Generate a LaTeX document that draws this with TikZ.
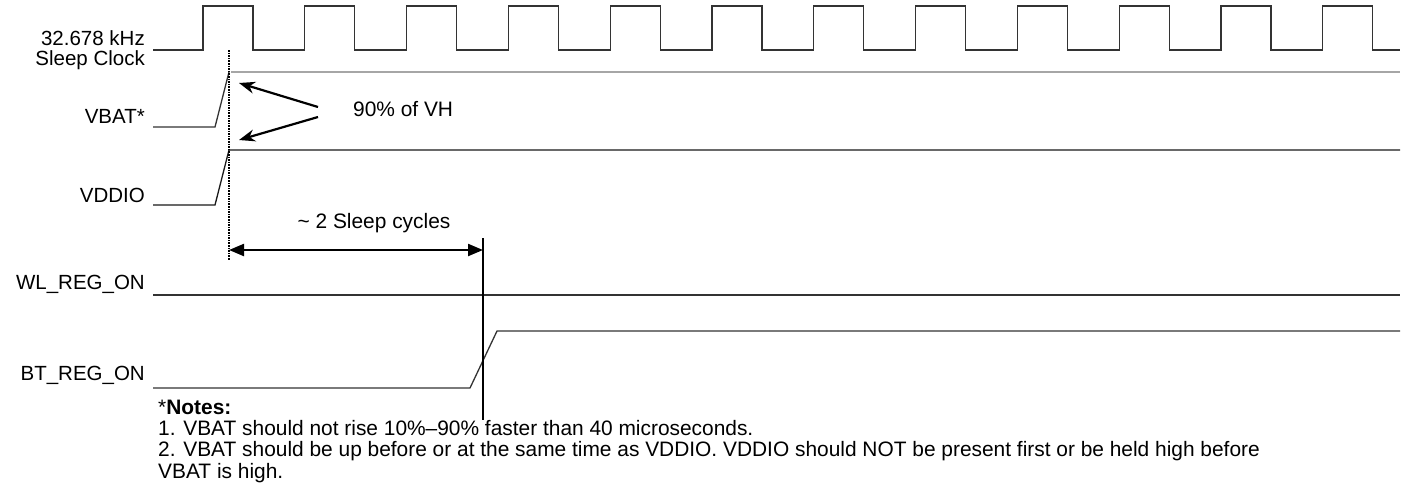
\documentclass[tikz,border=0pt]{standalone}
\usepackage{fontspec}
\setmainfont{Liberation Sans}
\usepackage{tikz}
\usetikzlibrary{positioning}
\usetikzlibrary{arrows.meta}
\tikzset{
  signal/.style= {
    color = black!80,
    line width = 1.3pt
  },
  siglabel/.style= {
    anchor = base east,
    inner sep = 0pt,
    font = \fontsize{20.5}{21}\selectfont
  },
  notetext/.style= {
    anchor = base west,
    align = left,
    inner sep = 0pt,
    font = \fontsize{20.9}{21.3}\selectfont
  },
  marker/.style= {
    densely dotted,
    line width = 1.6pt
  },
  pointer/.style= {
    -{Stealth[length=16pt,width=12pt]},
    line width = 2.2pt
  },
  span/.style= {
    {Triangle[length=15pt,width=12pt]}-{Triangle[length=15pt,width=12pt]},
    line width = 2.2pt
  }
}

\begin{document}
\begin{tikzpicture}[x=1pt,y=-1pt]
  \useasboundingbox (0,0) rectangle (1402,485);

  % signal names
  \node[siglabel] (clk) at (145,45) {32.678 kHz};
  \node[siglabel] (clk2) at (145,65) {Sleep Clock};
  \node[siglabel] (vbat) at (145,123) {VBAT*};
  \node[siglabel] (vddio) at (145,202) {VDDIO};
  \node[siglabel] (wl) at (145,289) {WL\_REG\_ON};
  \node[siglabel] (bt) at (145,380) {BT\_REG\_ON};

  % waveforms
  \draw[signal] (153,50)
    \foreach \i in {0,...,11} {
      -- ({203+101.8*\i},50) -- ({203+101.8*\i},6)
      -- ({253+101.8*\i},6) -- ({253+101.8*\i},50)
    } -- (1400,50);
  \draw[signal] (153,127) -- (215,127) -- (229,72);
  \draw[signal,color=black!35,line width=1.6pt] (231,72) -- (1400,72);
  \draw[signal,color=black!90] (153,205) -- (215,205) -- (229,150) -- (1400,150);
  \draw[signal] (153,295) -- (1400,295);
  \draw[signal] (153,388) -- (470,388) -- (497,331) -- (1400,331);

  % timing marks
  \coordinate (t0) at (229,50);
  \coordinate (t0end) at (229,260);
  \coordinate (t1) at (483,238);
  \coordinate (t1end) at (483,420);
  \draw[marker] (t0) -- (t0end);
  \draw[line width=1.2pt] (t1) -- (t1end);

  \node[notetext] (vh) at (353,116) {90\% of VH};
  \coordinate (vhtip) at (318,112);
  \draw[pointer] ([yshift=5pt]vhtip) -- (239,83);
  \draw[pointer] ([yshift=-5pt]vhtip) -- (239,140);

  \coordinate (s0) at (229,250);
  \coordinate (s1) at (483,250);
  \draw[span] (s0) -- (s1);
  \node[notetext,anchor=base] (cyc) at (374,228) {\textasciitilde\ 2 Sleep cycles};

  % notes
  \node[notetext] (notes) at (158,478) {
    *\textbf{Notes:}\\
    1. VBAT should not rise 10\%--90\% faster than 40 microseconds.\\
    2. VBAT should be up before or at the same time as VDDIO. VDDIO should NOT be present first or be held high before\\
    VBAT is high.};
\end{tikzpicture}
\end{document}
